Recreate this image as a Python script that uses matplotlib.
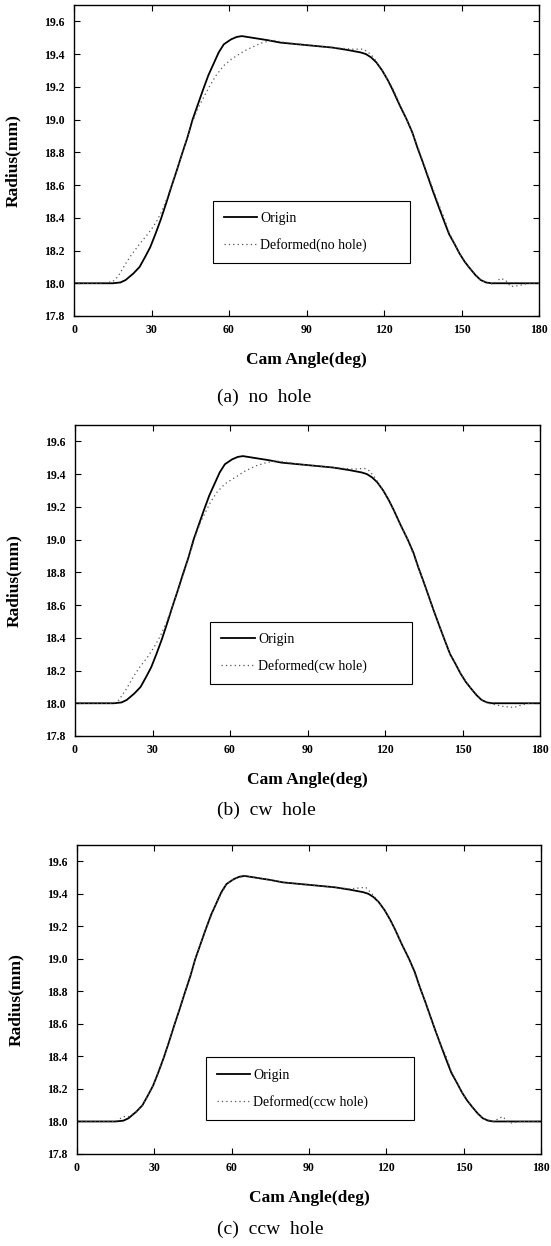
#!/usr/bin/env python3

import matplotlib
matplotlib.use('Agg')
import matplotlib.pyplot as plt
from matplotlib.ticker import FormatStrFormatter

# Cam profile: radius vs cam angle, origin and deformed for three hole cases

# Origin profile (same in every panel)
origin_deg = [0, 5, 10, 15, 18, 20, 23, 25.4, 27.5, 29.5, 31.5, 33.6, 35.7, 37.7,
              39.8, 41.8, 43.9, 45.9, 47.9, 49.9, 52, 54, 56, 58, 60.8, 63, 65, 69,
              75, 80, 90, 100, 106, 111, 113, 115, 117, 119.3, 121.5, 123.4, 126,
              128.8, 131, 132.9, 135, 137, 139, 141.1, 143, 145.2, 147.3, 149.3,
              151.3, 153.3, 155.4, 157.4, 159.5, 161.5, 165, 170, 175, 180]
origin_r = [18.0, 18.0, 18.0, 18.0, 18.005, 18.02, 18.06, 18.1, 18.16, 18.22, 18.30,
            18.39, 18.49, 18.59, 18.69, 18.79, 18.89, 19.0, 19.09, 19.18, 19.27, 19.34,
            19.41, 19.46, 19.49, 19.505, 19.51, 19.50, 19.485, 19.47, 19.455, 19.44,
            19.425, 19.41, 19.40, 19.38, 19.35, 19.30, 19.24, 19.18, 19.09, 19.0,
            18.92, 18.83, 18.74, 18.65, 18.56, 18.47, 18.39, 18.30, 18.24, 18.18,
            18.13, 18.09, 18.05, 18.02, 18.005, 18.0, 18.0, 18.0, 18.0, 18.0]

# (a) no hole
def_a_deg = [0, 10, 15, 17, 20, 22.5, 25.4, 28, 30, 32, 34, 36, 38, 40, 42, 44, 46,
             48, 50, 52.7, 55, 58, 61, 64, 66, 70, 73, 77, 80, 90, 100, 108, 112, 114,
             116, 119.3, 123.4, 128.8, 132.9, 137, 141, 143, 145.2, 149.3, 153.3,
             157.4, 161, 163, 165, 167, 169, 172, 176, 180]
def_a_r = [18.0, 18.0, 18.01, 18.04, 18.12, 18.18, 18.24, 18.29, 18.33, 18.38, 18.44,
           18.52, 18.61, 18.70, 18.80, 18.90, 18.99, 19.07, 19.13, 19.21, 19.27, 19.33,
           19.37, 19.40, 19.42, 19.45, 19.47, 19.485, 19.475, 19.455, 19.44, 19.43,
           19.43, 19.41, 19.38, 19.30, 19.19, 19.0, 18.84, 18.66, 18.49, 18.41, 18.31,
           18.18, 18.09, 18.02, 17.995, 18.0, 18.03, 18.02, 17.98, 17.985, 18.0, 18.0]

# (b) cw hole
def_b_deg = [0, 10, 15, 17, 20, 22.5, 25, 28, 30.5, 33, 35, 37, 39, 41, 43, 45, 47,
             49, 52.5, 55, 58, 62, 66, 70, 74, 78, 90, 100, 108, 112, 114, 116, 119.3,
             123.4, 128.8, 132.9, 137, 141.1, 145.2, 149.3, 153.3, 157.4, 160, 163,
             166, 170, 173, 176, 180]
def_b_r = [18.0, 18.0, 18.0, 18.02, 18.09, 18.16, 18.22, 18.28, 18.34, 18.41, 18.48,
           18.56, 18.65, 18.74, 18.84, 18.94, 19.04, 19.12, 19.23, 19.29, 19.34, 19.38,
           19.42, 19.45, 19.47, 19.48, 19.455, 19.44, 19.43, 19.435, 19.42, 19.38,
           19.30, 19.18, 19.0, 18.83, 18.65, 18.47, 18.30, 18.18, 18.09, 18.02, 18.0,
           17.99, 17.98, 17.975, 17.99, 18.0, 18.005]

# (c) ccw hole
def_c_deg = [0, 10, 15, 18, 20, 23, 25.4, 29.5, 33.6, 37.7, 41.8, 45.9, 49.9, 54, 58,
             60.8, 65, 69, 75, 80, 90, 100, 106, 112, 115, 119.3, 123.4, 128.8, 132.9,
             137, 141.1, 143, 145.2, 149.3, 153.3, 157.4, 161.5, 165, 168, 172, 180]
def_c_r = [18.0, 18.0, 18.0, 18.03, 18.03, 18.06, 18.1, 18.22, 18.39, 18.59, 18.79,
           19.0, 19.18, 19.34, 19.46, 19.49, 19.51, 19.50, 19.485, 19.47, 19.455,
           19.44, 19.43, 19.44, 19.39, 19.30, 19.18, 19.0, 18.83, 18.65, 18.47, 18.41,
           18.31, 18.18, 18.09, 18.02, 18.0, 18.03, 17.99, 18.0, 18.0]

panels = [
    ('(a)  no  hole', 'Deformed(no hole)', def_a_deg, def_a_r),
    ('(b)  cw  hole', 'Deformed(cw hole)', def_b_deg, def_b_r),
    ('(c)  ccw  hole', 'Deformed(ccw hole)', def_c_deg, def_c_r),
]

X_TICKS = [0, 30, 60, 90, 120, 150, 180]
Y_TICKS = [17.8, 18.0, 18.2, 18.4, 18.6, 18.8, 19.0, 19.2, 19.4, 19.6]

# pixel boxes of the three axes: left, top, right, bottom
AX_BOXES = [(74, 5, 539, 316), (75, 425, 540, 736), (77, 845, 541, 1154)]
# legend boxes in axes fractions: x0, y0, width, height
LEGEND_BOXES = [(0.298, 0.169, 0.424, 0.204), (0.291, 0.164, 0.434, 0.206),
                (0.277, 0.110, 0.450, 0.203)]
CAPTIONS_Y = [397, 810, 1229]
CAPTIONS_X = [264, 266, 270]

W, H = 551, 1246
plt.rcParams['font.family'] = ['Liberation Serif', 'DejaVu Serif']

fig = plt.figure(figsize=(W / 100, H / 100), dpi=100)

for (caption, def_label, d_deg, d_r), box, lbox, cy, cx in zip(
        panels, AX_BOXES, LEGEND_BOXES, CAPTIONS_Y, CAPTIONS_X):
    left, top, right, bottom = box
    ax = fig.add_axes([left / W, (H - bottom) / H, (right - left) / W, (bottom - top) / H])
    ax.plot(origin_deg, origin_r, color='black', linewidth=1.3, label='Origin')
    ax.plot(d_deg, d_r, color='#555555', linewidth=0.9, linestyle=(0, (1, 2.5)),
            label=def_label)
    ax.set_xlim(0, 180)
    ax.set_ylim(17.8, 19.7)
    ax.set_xticks(X_TICKS)
    ax.set_yticks(Y_TICKS)
    ax.yaxis.set_major_formatter(FormatStrFormatter('%.1f'))
    ax.tick_params(direction='in', length=4, width=0.8, top=True, right=True,
                   labelsize=8.5)
    ax.tick_params(axis='y', pad=7)
    ax.tick_params(axis='x', pad=5.5)
    for lab in ax.get_xticklabels() + ax.get_yticklabels():
        lab.set_fontweight('bold')
    for spine in ax.spines.values():
        spine.set_linewidth(1.0)
    ax.set_xlabel('Cam Angle(deg)', fontsize=12.5, fontweight='bold')
    ax.set_ylabel('Radius(mm)', fontsize=12.5, fontweight='bold')
    ax.xaxis.set_label_coords(0.5, -0.116)
    ax.yaxis.set_label_coords(-0.114, 0.5)
    leg = ax.legend(loc='center', bbox_to_anchor=lbox, mode='expand', fontsize=10,
                    frameon=True, fancybox=False, framealpha=1, edgecolor='black',
                    handlelength=2.4, handletextpad=0.25, labelspacing=0.95,
                    borderpad=0.8, borderaxespad=0)
    leg.get_frame().set_linewidth(0.8)
    fig.text(cx / W, 1 - cy / H, caption, ha='center', va='center', fontsize=14)

fig.savefig('out.png', dpi=100, facecolor='white')
